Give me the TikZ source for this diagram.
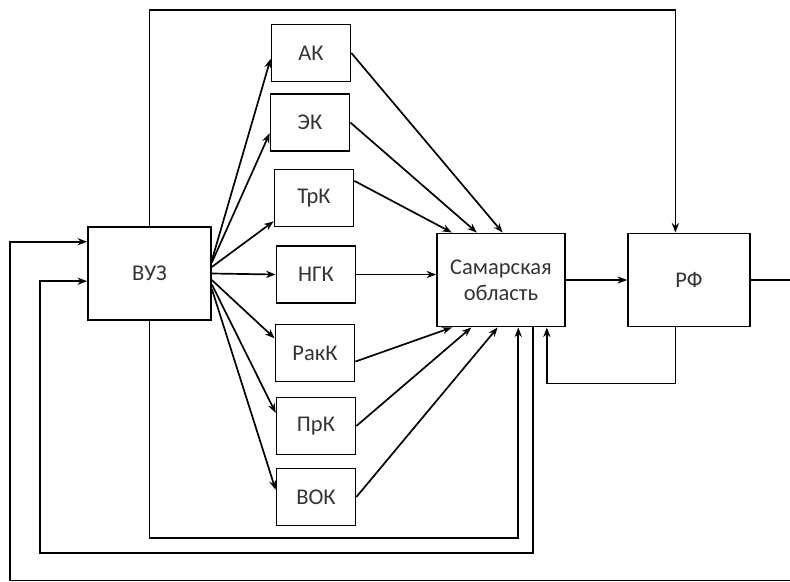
\documentclass[tikz,border=0pt]{standalone}
\usepackage{fontspec}
\setmainfont{Carlito}
\usetikzlibrary{arrows.meta}

\begin{document}
\begin{tikzpicture}[
      x=0.025cm, y=-0.025cm,
      box/.style={draw, line width=1.2pt, align=center, text=black!80, font=\fontsize{16}{18.5}\selectfont, inner sep=2pt},
      small/.style={box, minimum width=1.975cm, minimum height=1.43cm},
      big/.style={box, minimum height=2.33cm},
      line/.style={-{Stealth[length=2.4mm,width=1.8mm]}, line width=1.2pt},
      wire/.style={line width=1.2pt}
    ]
    \useasboundingbox (0,0) rectangle (790,581);
    \clip (0,0) rectangle (790,581);

    \node[big, minimum width=3.075cm] (vuz) at (149.5,273.5) {ВУЗ};
    \node[small] (ak) at (311,53) {АК};
    \node[small] (ek) at (310,122.5) {ЭК};
    \node[small] (trk) at (314,198) {ТрК};
    \node[small] (ngk) at (316,274.5) {НГК};
    \node[small] (rakk) at (315,353) {РакК};
    \node[small] (prk) at (316,426) {ПрК};
    \node[small] (vok) at (316,497) {ВОК};
    \node[big, minimum width=3.2cm] (sam) at (501,280) {Самарская\\область};
    \node[big, minimum width=3.05cm] (rf) at (689,280) {РФ};

    % ВУЗ -> кластеры
    \draw[line] (vuz.12) -- (ak.188);
    \draw[line] (vuz.10) -- (ek.195);
    \draw[line] (vuz.6) -- (trk.210);
    \draw[line] (vuz.east) -- (ngk.west);
    \draw[line] (vuz.-6) -- (rakk.160);
    \draw[line] (vuz.-10) -- (prk.162);
    \draw[line] (vuz.-14) -- (vok.170);

    % кластеры -> область
    \draw[line] (ak.east) -- (sam.88);
    \draw[line] (ek.east) -- (sam.117);
    \draw[line] (trk.23) -- (sam.136);
    \draw[line] (ngk.east) -- (ngk.east -| sam.west);
    \draw[line] (rakk.-12) -- (sam.224);
    \draw[line] (prk.east) -- (sam.238);
    \draw[line] (vok.east) -- (sam.266);

    \draw[line] (sam.east) -- (rf.west);

    % обратные связи
    \draw[line] (vuz.north) -- ++(0,-216) -| (rf.106);
    \draw[line] (vuz.south) -- ++(0,217) -| (sam.290);
    \draw[line] (rf.254) -- ++(0,56) -| (sam.314);
    \draw[line] (sam.304) |- (40,553) |- (vuz.187);
    \draw[line] (rf.east) -- ++(60,0) |- (10,580.5) |- (vuz.153);
  \end{tikzpicture}
\end{document}
